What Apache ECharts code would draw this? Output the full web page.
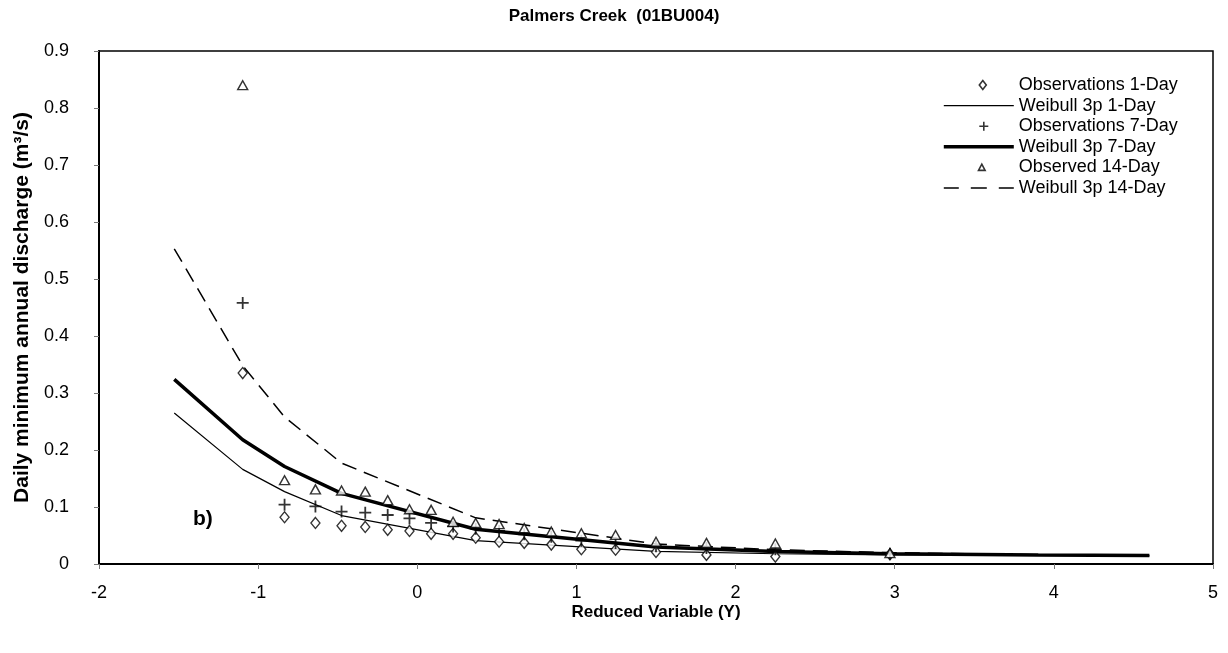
<!DOCTYPE html>
<html>
<head>
<meta charset="utf-8">
<script src="https://cdn.jsdelivr.net/npm/echarts@6/dist/echarts.min.js"></script>
<style>html,body{margin:0;padding:0;background:#fff;}#c{width:1228px;height:653px;}</style>
</head>
<body>
<div id="c"></div>
<script>
// Reduced variable (Gumbel) of observations, n = 19
const obsX = [-1.097, -0.834, -0.640, -0.476, -0.327, -0.186, -0.049, 0.087, 0.225, 0.367,
              0.514, 0.672, 0.842, 1.031, 1.246, 1.500, 1.817, 2.250, 2.970];
const obs1Day  = [0.335, 0.082, 0.072, 0.067, 0.065, 0.060, 0.058, 0.053, 0.053, 0.046,
                  0.039, 0.037, 0.034, 0.026, 0.025, 0.021, 0.016, 0.013, 0.017];
const obs7Day  = [0.458, 0.104, 0.101, 0.092, 0.090, 0.086, 0.080, 0.072, 0.066, 0.062,
                  0.058, 0.052, 0.048, 0.041, 0.037, 0.031, 0.028, 0.026, 0.018];
const obs14Day = [0.840, 0.147, 0.131, 0.129, 0.127, 0.112, 0.096, 0.095, 0.074, 0.072,
                  0.070, 0.063, 0.057, 0.054, 0.051, 0.039, 0.037, 0.036, 0.019];
// Weibull 3p fitted curves
const fitX      = [-1.527, -1.097, -0.834, -0.476, 0.367, 1.500, 2.250, 2.970, 3.902, 4.600];
const weib1Day  = [0.265, 0.166, 0.127, 0.085, 0.041, 0.022, 0.018, 0.016, 0.015, 0.014];
const weib7Day  = [0.324, 0.218, 0.171, 0.124, 0.061, 0.030, 0.022, 0.018, 0.016, 0.015];
const weib14Day = [0.553, 0.348, 0.258, 0.177, 0.081, 0.035, 0.025, 0.020, 0.016, 0.015];
const xTicks = [-2, -1, 0, 1, 2, 3, 4, 5];
const seriesNames = ['Observations 1-Day', 'Weibull 3p 1-Day', 'Observations 7-Day',
                     'Weibull 3p 7-Day', 'Observed 14-Day', 'Weibull 3p 14-Day'];

const pair = (xs, ys) => xs.map((x, i) => [x, ys[i]]);
const FONT = 'Liberation Sans, Arial, sans-serif';

const hollow = {color: '#fff', borderColor: '#000', borderWidth: 1.4};
const plusPath = 'path://M5,0L5,10M0,5L10,5';

// legend icons drawn in a 70x14 box (the two moveTo points fix the box)
const BOX = 'path://M0,0M70,14';
const legendIcons = [
  {icon: BOX + 'M39,2.5L42.5,7L39,11.5L35.5,7Z', itemStyle: {color: '#fff', borderColor: '#000', borderWidth: 1.6}},
  {icon: BOX + 'M0,6.4H70V7.6H0Z', itemStyle: {color: '#000', borderWidth: 0}},
  {icon: BOX + 'M39.2,2.5H40.8V11.5H39.2ZM35.5,6.2H44.5V7.8H35.5Z', itemStyle: {color: '#000', borderWidth: 0}},
  {icon: BOX + 'M0,5.3H70V8.7H0Z', itemStyle: {color: '#000', borderWidth: 0}},
  {icon: BOX + 'M38,3.8L41.3,10L34.7,10Z', itemStyle: {color: '#fff', borderColor: '#000', borderWidth: 1.6}},
  {icon: BOX + 'M0,6.2H15V7.8H0ZM27,6.2H43V7.8H27ZM55,6.2H70V7.8H55Z', itemStyle: {color: '#000', borderWidth: 0}}
];

const chart = echarts.init(document.getElementById('c'), null, {renderer: 'canvas'});
chart.setOption({
  animation: false,
  backgroundColor: '#fff',
  title: {
    text: 'Palmers Creek  (01BU004)',
    left: 'center', top: 3,
    textStyle: {fontFamily: FONT, fontWeight: 'bold', fontSize: 17, color: '#000'}
  },
  grid: {left: 99, right: 15, top: 51, bottom: 89, show: true, borderColor: '#000', borderWidth: 1.5, backgroundColor: 'transparent'},
  legend: {
    orient: 'vertical', left: 938, top: 71,
    itemWidth: 70, itemHeight: 14, itemGap: 2.6,
    textStyle: {fontFamily: FONT, fontSize: 18, color: '#000', lineHeight: 18},
    symbolKeepAspect: true,
    data: seriesNames.map((n, i) => Object.assign({name: n}, legendIcons[i]))
  },
  xAxis: {
    type: 'value', min: xTicks[0], max: xTicks[xTicks.length - 1], interval: 1,
    name: 'Reduced Variable (Y)', nameLocation: 'middle', nameGap: 40, nameMoveOverlap: false,
    nameTextStyle: {fontFamily: FONT, fontWeight: 'bold', fontSize: 17, color: '#000'},
    axisLine: {onZero: false, lineStyle: {color: '#000', width: 2}},
    axisTick: {show: true, length: 5, lineStyle: {color: '#777'}},
    axisLabel: {fontFamily: FONT, fontSize: 18, color: '#000', margin: 20},
    splitLine: {show: false}
  },
  yAxis: {
    type: 'value', min: 0, max: 0.9, interval: 0.1,
    name: 'Daily minimum annual discharge (m³/s)', nameLocation: 'middle', nameGap: 66,
    nameTextStyle: {fontFamily: FONT, fontWeight: 'bold', fontSize: 21, color: '#000'},
    axisLine: {show: true, onZero: false, lineStyle: {color: '#000', width: 2}},
    axisTick: {show: true, length: 5, lineStyle: {color: '#777'}},
    axisLabel: {fontFamily: FONT, fontSize: 18, color: '#000', margin: 30},
    splitLine: {show: false}
  },
  graphic: [{
    type: 'text', left: 193, top: 509,
    style: {text: 'b)', font: 'bold 21px ' + FONT, fill: '#000'}
  }],
  series: [
    {name: seriesNames[0], type: 'scatter', symbol: 'diamond', symbolSize: [9, 11], z: 5,
     itemStyle: hollow, data: pair(obsX, obs1Day)},
    {name: seriesNames[1], type: 'line', symbol: 'none', z: 3,
     lineStyle: {color: '#000', width: 1.2}, itemStyle: {color: '#000'}, data: pair(fitX, weib1Day)},
    {name: seriesNames[2], type: 'scatter', symbol: plusPath, symbolSize: 12, z: 5,
     itemStyle: {color: 'none', borderColor: '#000', borderWidth: 1.8}, data: pair(obsX, obs7Day)},
    {name: seriesNames[3], type: 'line', symbol: 'none', z: 3,
     lineStyle: {color: '#000', width: 3.5}, itemStyle: {color: '#000'}, data: pair(fitX, weib7Day)},
    {name: seriesNames[4], type: 'scatter', symbol: 'triangle', symbolSize: [10, 9], z: 5,
     itemStyle: hollow, data: pair(obsX, obs14Day)},
    {name: seriesNames[5], type: 'line', symbol: 'none', z: 3,
     lineStyle: {color: '#000', width: 1.5, type: [15, 8]}, itemStyle: {color: '#000'}, data: pair(fitX, weib14Day)}
  ]
});
</script>
</body>
</html>
